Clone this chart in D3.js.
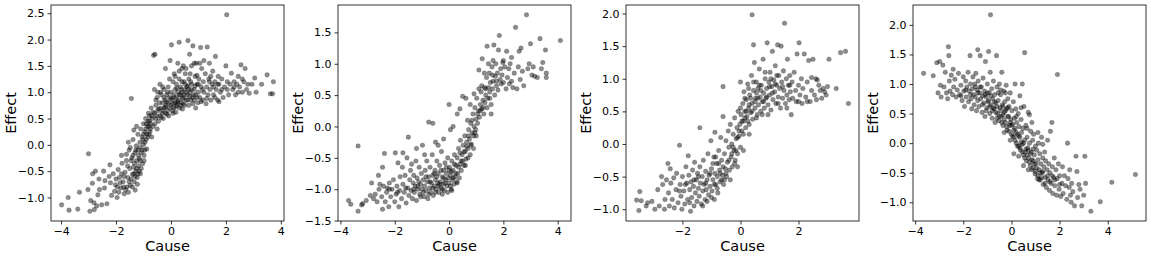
<!DOCTYPE html>
<html>
<head>
<meta charset="utf-8">
<script src="https://cdn.jsdelivr.net/npm/d3@7"></script>
<style>
  body { margin: 0; background: white; }
  svg { display: block; }
  text { font-family: "DejaVu Sans", sans-serif; fill: #000; }
</style>
</head>
<body>
<svg id="fig" width="1151" height="258"></svg>
<script>
// <data> : points, [cause, effect]
var pair1 = [
[-3.98,-1.14],[-3.74,-1.0],[-3.71,-1.24],[-3.39,-1.22],[-3.33,-0.9],[-3.0,-0.17],[-3.02,-0.85],[-2.95,-1.26],[-2.92,-1.06],[-2.86,-0.73],
[-2.8,-1.1],[-2.79,-1.23],[-2.75,-0.5],[-2.7,-1.16],[-2.66,-0.95],[-2.62,-0.65],[-2.52,-1.14],[-2.45,-0.5],[-2.42,-0.82],[-2.33,-1.12],
[-2.22,-0.38],[-2.2,-0.72],[-2.16,-0.96],[-2.1,-0.55],[-2.05,-0.88],[-2.02,-0.76],[-1.96,-1.0],[-1.92,-0.47],[-1.9,-0.9],[-1.87,-0.62],
[-1.82,-0.82],[-1.78,-0.35],[-1.74,-0.7],[-1.7,-0.93],[-1.67,-0.52],[-1.62,-0.3],[-1.6,-0.8],[-1.57,-0.62],[-1.52,-0.1],[-1.5,-0.45],
[-1.48,-0.77],[-1.44,0.88],[-1.42,-0.25],[-1.4,-0.56],[-1.38,0.1],[-1.36,-0.42],[-1.34,-0.7],[-1.31,-0.15],[-1.3,-0.86],[-1.28,-0.5],
[-1.26,-0.02],[-1.25,-0.3],[-1.23,-0.62],[-1.2,0.2],[-1.2,-0.1],[-1.18,-0.4],[-1.15,-0.26],[-1.13,0.05],[-1.11,-0.55],[-1.1,0.3],
[-1.08,-0.15],[-1.05,0.15],[-1.03,-0.36],[-1.0,0.4],[-1.0,0.0],[-0.98,-0.2],[-0.95,0.25],[-0.92,0.5],[-0.9,0.1],[-0.88,-0.08],
[-0.85,0.35],[-0.82,0.6],[-0.8,0.2],[-0.78,0.45],[-0.75,0.3],[-0.72,0.7],[-0.7,0.15],[-0.68,0.5],[-0.65,0.35],[-0.63,1.7],[-0.58,1.72],
[-1.65,-0.85],[-1.55,-0.9],[-1.45,-0.65],[-1.4,-0.8],[-1.35,-0.55],[-1.3,-0.6],[-1.25,-0.45],[-1.22,-0.75],[-1.18,-0.2],[-1.15,-0.5],
[-1.12,-0.3],[-1.08,-0.45],[-1.05,-0.1],[-1.02,0.1],[-0.98,-0.3],[-0.95,0.05],[-0.92,0.3],[-0.9,0.4],[-0.88,0.2],[-0.85,0.15],
[-0.83,0.45],[-0.8,0.35],[-0.78,0.55],[-0.76,0.25],[-0.74,0.4],[-2.25,-0.6],[-2.0,-0.65],[-1.95,-0.8],[-1.85,-0.72],[-1.8,-0.55],
[-1.72,-0.8],[-1.7,-0.6],[-2.4,-0.68],[-2.6,-0.85],[-2.85,-0.55],[-1.58,-0.4],[-1.52,-0.7],[-1.45,-0.3],[-1.38,-0.2],[-1.33,-0.35],
[-1.28,-0.1],[-1.2,-0.55],[-1.12,-0.05],[-1.0,0.2],[-0.95,-0.1],[-1.62,-0.18],[-1.8,-0.2],[-1.35,0.28],[-1.55,0.05],[-1.25,0.35],[-1.48,-0.05],
[-0.6,0.6],[-0.6,1.05],[-0.58,0.4],[-0.55,0.75],[-0.52,0.55],[-0.5,0.9],[-0.5,0.3],[-0.48,0.65],[-0.45,0.45],[-0.42,0.8],
[-0.4,1.15],[-0.4,0.55],[-0.38,0.7],[-0.35,0.95],[-0.32,0.6],[-0.3,0.8],[-0.28,0.5],[-0.25,1.05],[-0.25,0.7],[-0.22,0.85],
[-0.2,1.45],[-0.2,0.6],[-0.18,0.75],[-0.15,0.95],[-0.12,0.65],[-0.1,1.1],[-0.1,0.8],[-0.08,0.55],[-0.05,0.9],[-0.03,1.6],
[0.0,0.75],[0.0,1.0],[0.02,1.9],[0.05,0.85],[0.05,0.65],[0.08,1.2],[0.1,0.95],[0.1,0.7],[0.12,1.35],[0.15,0.8],
[0.15,1.05],[0.18,0.62],[0.2,0.9],[0.2,1.15],[0.22,0.75],[0.25,1.55],[0.25,1.0],[0.28,0.85],[0.3,1.95],[0.3,1.25],
[0.32,0.7],[0.35,0.95],[0.35,1.1],[0.38,0.8],[0.4,1.45],[0.4,1.0],[0.42,0.68],[0.45,0.9],[0.48,1.2],[0.5,0.75],
[0.5,1.05],[0.52,1.35],[0.55,0.85],[0.58,1.1],[0.6,0.95],[0.62,1.98],[0.65,0.75],[0.65,1.25],[0.68,1.72],[0.7,1.0],
[0.72,0.85],[0.75,1.5],[0.75,1.15],[0.78,0.9],[0.8,1.88],[0.8,0.78],[0.85,1.05],[0.88,1.3],[0.9,0.95],[0.92,1.55],
[0.95,1.15],[0.98,0.8],[1.0,1.0],[1.02,1.25],[1.05,0.9],[1.08,1.85],[1.1,1.1],[1.12,1.45],[1.15,0.85],[1.18,1.2],
[1.2,1.0],[1.25,1.35],[1.28,0.78],[1.3,1.1],[1.32,1.86],[1.35,0.95],[1.38,1.25],[1.4,1.55],[1.42,1.05],[1.45,0.85],
[1.5,1.15],[1.52,1.4],[1.55,0.95],[1.6,1.2],[1.62,1.68],[1.65,1.05],[1.7,0.85],[1.72,1.3],[1.75,1.15],[1.8,1.0],
[1.85,1.25],[1.9,0.9],[1.95,1.1],[2.0,1.5],[2.03,2.47],[2.05,1.2],[2.1,0.95],[2.15,1.15],[2.2,1.36],[2.25,1.05],
[2.3,1.2],[2.35,0.95],[2.4,1.15],[2.45,1.3],[2.5,1.1],[2.55,1.52],[2.6,1.0],[2.65,1.2],[2.7,1.45],[2.75,1.05],
[2.85,0.98],[2.95,1.15],[3.05,1.27],[3.1,1.0],[3.3,1.15],[3.5,1.33],[3.62,0.97],[3.7,0.97],[3.73,1.2],[2.8,1.15],
[1.6,0.9],[1.1,0.82],[0.9,0.7],
[-0.7,0.55],[-0.65,0.62],[-0.55,0.5],[-0.45,0.68],[-0.35,0.52],[-0.3,0.65],[-0.2,0.72],[-0.15,0.58],[-0.05,0.7],[0.0,0.88],
[0.05,0.78],[0.12,0.9],[0.18,0.72],[0.25,0.82],[0.3,0.95],[0.35,0.75],[0.42,0.88],[0.48,0.95],[0.55,1.0],[0.6,0.85],
[0.68,0.92],[0.75,1.05],[0.82,0.95],[0.88,1.12],[0.95,0.9],[1.0,1.15],[-0.15,0.82],[-0.25,0.9],[0.08,0.6],[0.22,1.08],
[0.38,1.05],[0.45,0.78],[0.52,1.15],[0.62,1.12],[0.72,1.2],[0.85,0.85],[-0.38,1.0],[-0.05,1.25],[0.15,1.3],[0.3,1.4],
[0.45,1.5],[0.55,1.45],[0.7,1.35],[0.85,1.55],[1.05,1.55],[1.2,1.6],[1.45,1.3],[1.3,0.88],[1.55,1.1],[1.7,1.15],
[1.85,1.05],[2.05,1.05],[2.3,1.1],[2.45,1.0],[2.6,1.25],[1.75,0.82],[1.4,1.2],[1.15,1.05],[0.95,1.32],[0.65,1.05],
[0.4,1.2],[0.2,0.8],[-0.12,1.0],[-0.3,1.1],[-0.55,0.85],[-0.48,1.0]
];

var pair2 = [
[-3.7,-1.18],[-3.62,-1.24],[-3.35,-1.35],[-3.35,-0.31],[-3.22,-1.25],[-3.18,-1.23],[-2.85,-0.9],[-2.78,-1.15],[-2.72,-1.08],[-2.65,-1.2],
[-2.58,-1.0],[-2.55,-0.92],[-2.48,-1.12],[-2.45,-1.32],[-2.42,-0.95],[-2.38,-0.43],[-2.35,-1.2],[-2.3,-1.05],[-2.28,-0.98],[-2.22,-1.28],
[-2.2,-0.9],[-2.15,-1.12],[-2.1,-1.0],[-2.05,-0.85],[-2.0,-1.2],[-1.98,-0.42],[-1.95,-1.08],[-1.92,-0.95],[-1.88,-0.58],[-1.85,-1.28],
[-1.82,-1.02],[-1.8,-0.8],[-1.75,-1.15],[-1.72,-0.65],[-1.7,-0.92],[-1.65,-1.05],[-1.62,-0.78],[-1.58,-1.22],[-1.55,-0.5],[-1.52,-0.98],
[-1.5,-0.17],[-1.48,-1.1],[-1.45,-0.85],[-1.42,-0.7],[-1.4,-1.02],[-1.38,-0.6],[-1.35,-1.15],[-1.32,-0.9],[-1.3,-0.78],[-1.28,-1.05],
[-1.25,-0.95],[-1.22,-0.55],[-1.2,-1.18],[-1.18,-0.82],[-1.15,-1.0],[-1.12,-0.88],[-1.1,-0.65],[-1.08,-1.08],[-1.05,-0.92],[-1.02,-0.75],
[-1.0,-1.0],[-0.98,-0.3],[-0.95,-0.85],[-0.92,-1.12],[-0.9,-0.95],[-0.88,-0.7],[-0.85,-1.02],[-0.82,-0.55],[-0.8,-0.88],[-0.78,-1.15],
[-0.75,-0.8],[-0.75,0.07],[-0.72,-0.98],[-0.7,-0.65],[-0.68,-1.05],[-0.65,-0.9],[-0.62,-0.45],[-0.6,-0.78],[-0.6,0.05],[-0.58,-1.1],
[-0.55,-0.95],[-0.52,-0.7],[-0.5,-0.85],[-0.48,-1.0],[-0.45,-0.55],[-0.42,-0.9],[-0.4,-0.75],[-0.38,-1.05],[-0.35,-0.62],[-0.32,-0.88],
[-0.3,-0.98],[-0.28,-0.4],[-0.25,-0.8],[-0.22,-0.92],[-0.2,-0.7],[-0.18,-1.02],[-0.15,-0.58],[-0.12,-0.85],[-0.1,-0.75],[-0.08,-0.95],
[-0.05,-0.5],[-0.02,-0.82],[0.0,0.35],[0.0,-0.9],[0.02,-0.65],[0.05,-0.78],[0.05,-0.05],[0.08,-1.0],[0.1,-0.55],[0.12,-0.85],
[0.15,-0.7],[0.18,-0.92],[0.2,-0.45],[0.22,-0.8],[0.25,-0.62],[0.28,-0.88],[0.3,0.2],[0.3,-0.5],[0.32,-0.75],[0.35,-0.35],
[0.38,-0.82],[0.4,-0.6],[0.42,-0.22],[0.45,-0.7],[0.48,-0.45],[0.5,-0.55],[0.5,0.48],[0.52,-0.3],[0.55,-0.62],[0.58,-0.15],
[0.6,-0.4],[0.62,-0.52],[0.65,-0.25],[0.68,0.1],[0.7,-0.35],[0.72,-0.05],[0.75,-0.2],[0.78,-0.45],[0.8,0.05],[0.82,-0.28],
[0.85,-0.1],[0.88,0.2],[0.9,-0.15],[0.92,0.0],[0.95,0.3],[0.98,-0.05],[1.0,0.12],[1.02,0.45],[1.05,0.05],[1.08,0.25],
[1.1,0.9],[1.12,0.15],[1.15,0.35],[1.18,0.55],[1.2,0.28],[1.22,1.08],[1.25,0.42],[1.28,0.2],[1.3,0.62],[1.32,0.38],
[1.35,0.5],[1.38,0.78],[1.4,1.28],[1.42,0.45],[1.45,0.62],[1.48,0.85],[1.5,0.55],[1.52,0.7],[1.55,0.35],[1.58,0.95],
[1.6,0.6],[1.62,0.72],[1.65,1.3],[1.68,0.5],[1.7,0.8],[1.72,1.0],[1.75,0.65],[1.78,0.85],[1.8,0.58],[1.82,1.22],
[1.85,1.45],[1.88,0.75],[1.9,0.92],[1.92,0.68],[1.95,0.82],[1.98,1.02],[2.0,0.7],[2.05,0.95],[2.1,0.6],[2.12,1.2],
[2.15,0.78],[2.2,0.92],[2.22,0.68],[2.25,1.0],[2.3,0.72],[2.35,0.62],[2.4,0.85],[2.45,1.58],[2.5,0.6],[2.55,0.95],
[2.58,1.2],[2.62,0.75],[2.65,1.25],[2.7,0.88],[2.75,0.65],[2.85,1.78],[2.9,0.92],[2.95,1.0],[3.0,1.32],[3.05,0.82],
[3.1,0.95],[3.15,0.8],[3.25,0.78],[3.35,1.4],[3.4,0.92],[3.45,1.02],[3.55,1.22],[3.58,0.85],[3.58,0.78],[4.1,1.37],
[-1.15,-0.95],[-0.95,-1.05],[-0.85,-0.8],[-0.7,-0.88],[-0.6,-0.98],[-0.5,-1.05],[-0.45,-0.8],[-0.35,-0.92],[-0.25,-1.0],[-0.15,-0.9],
[-0.05,-1.05],[0.05,-0.95],[0.15,-0.82],[0.25,-0.75],[0.35,-0.65],[0.45,-0.55],[-0.3,-0.7],[-0.1,-0.65],[0.08,-0.72],[-0.55,-0.75],
[-0.4,-0.95],[-0.2,-0.82],[0.0,-0.7],[0.2,-0.6],[0.4,-0.42],[0.55,-0.4],[0.65,-0.32],[0.72,-0.15],[0.8,-0.3],[0.85,0.1],
[0.95,-0.1],[1.05,0.2],[1.15,0.25],[1.25,0.3],[1.35,0.6],[1.5,0.45],[1.6,0.82],[1.75,0.72],[-1.3,-1.0],[-1.6,-0.98],
[-1.9,-1.05],[-2.2,-1.0],[-1.05,-1.12],[-0.75,-1.08],[-0.25,-1.08],[0.1,-1.02],[0.3,-0.9],[0.6,-0.62],[0.7,-0.5],[0.9,-0.35],
[1.0,-0.15],[0.78,0.35],[0.62,0.45],[0.4,0.28],[0.15,0.0],[-0.2,-0.2],[-0.4,-0.3],[-0.5,-0.25],[-0.9,-0.45],[-1.2,-0.35],
[-1.7,-0.42],[-2.45,-0.65],[-2.6,-0.78],[-2.9,-1.1],[-3.05,-1.18],[1.2,0.65],[1.4,0.3],[1.3,0.85],[1.45,1.0],[1.62,1.05],
[2.0,1.05],[2.3,1.1],[1.55,0.2],[0.92,0.52],[1.1,0.6]
];

var pair3 = [
[-3.58,-0.86],[-3.5,-1.02],[-3.47,-0.73],[-3.42,-0.87],[-3.25,-0.95],[-3.2,-0.9],[-3.05,-0.88],[-2.95,-1.0],[-2.85,-0.7],[-2.8,-0.95],
[-2.72,-0.5],[-2.68,-0.62],[-2.62,-1.0],[-2.6,-0.85],[-2.55,-0.55],[-2.5,-0.3],[-2.48,-0.75],[-2.45,-0.95],[-2.42,-0.38],[-2.4,-0.6],
[-2.35,-0.85],[-2.3,-0.52],[-2.28,-0.98],[-2.22,-0.7],[-2.2,-0.45],[-2.15,-0.9],[-2.1,-0.02],[-2.08,-0.62],[-2.05,-0.8],[-2.02,-1.0],
[-2.0,-0.5],[-1.95,-0.72],[-1.92,-0.92],[-1.88,-0.35],[-1.85,-0.6],[-1.82,-0.85],[-1.8,-0.18],[-1.78,-0.48],[-1.75,-0.7],[-1.72,-1.03],
[-1.7,-0.58],[-1.68,-0.82],[-1.65,-0.4],[-1.62,-0.65],[-1.6,-0.95],[-1.58,-0.28],[-1.55,-0.75],[-1.52,-0.55],[-1.5,-0.88],[-1.48,-0.45],
[-1.45,-0.68],[-1.42,-0.8],[-1.4,0.25],[-1.4,-0.35],[-1.38,-0.6],[-1.35,-0.92],[-1.32,-0.5],[-1.3,-0.72],[-1.28,-0.25],[-1.25,-0.62],
[-1.22,-0.85],[-1.2,-0.42],[-1.18,-0.7],[-1.15,-0.55],[-1.12,-0.15],[-1.1,-0.78],[-1.08,-0.48],[-1.05,-0.65],[-1.02,0.05],[-1.0,-0.38],
[-0.98,-0.72],[-0.95,-0.55],[-0.92,-0.2],[-0.9,-0.85],[-0.88,0.18],[-0.88,-0.45],[-0.85,-0.62],[-0.82,-0.3],[-0.8,-0.5],[-0.78,-0.75],
[-0.75,-0.1],[-0.72,-0.4],[-0.7,-0.58],[-0.68,0.1],[-0.65,-0.25],[-0.62,-0.48],[-0.6,0.88],[-0.6,0.42],[-0.58,-0.62],[-0.55,-0.15],
[-0.52,-0.38],[-0.5,0.05],[-0.48,-0.5],[-0.45,-0.28],[-0.42,0.2],[-0.4,-0.05],[-0.38,-0.4],[-0.35,0.3],[-0.32,-0.2],[-0.3,0.0],
[-0.28,-0.35],[-0.25,0.15],[-0.22,-0.1],[-0.2,0.4],[-0.18,-0.25],[-0.15,0.08],[-0.12,0.25],[-0.1,-0.15],[-0.08,0.5],[-0.05,0.12],
[-0.02,0.3],[0.0,-0.05],[0.0,0.95],[0.02,0.45],[0.05,0.2],[0.08,0.62],[0.1,0.35],[0.12,0.8],[0.15,0.5],[0.18,0.25],
[0.2,0.68],[0.22,0.42],[0.25,0.92],[0.28,0.55],[0.3,0.3],[0.32,0.75],[0.35,0.48],[0.38,1.05],[0.4,1.98],[0.4,0.62],
[0.42,0.38],[0.45,1.52],[0.45,0.82],[0.48,1.25],[0.5,0.55],[0.52,0.7],[0.55,0.95],[0.58,0.45],[0.6,0.85],[0.62,0.6],
[0.65,1.15],[0.68,0.72],[0.7,0.5],[0.72,0.9],[0.75,0.65],[0.78,1.3],[0.8,0.78],[0.82,0.55],[0.85,1.0],[0.88,0.7],
[0.9,0.85],[0.92,1.55],[0.95,0.6],[0.98,0.95],[1.0,0.75],[1.02,1.1],[1.05,0.52],[1.08,0.88],[1.1,1.42],[1.12,0.68],
[1.15,0.98],[1.18,0.8],[1.2,1.2],[1.22,0.62],[1.25,0.9],[1.28,1.52],[1.3,0.72],[1.32,1.05],[1.35,0.85],[1.38,0.55],
[1.4,1.5],[1.42,0.95],[1.45,0.7],[1.48,1.12],[1.5,0.82],[1.52,1.85],[1.55,0.62],[1.58,1.0],[1.6,0.75],[1.62,1.3],
[1.65,0.9],[1.68,0.68],[1.7,1.05],[1.72,0.8],[1.75,0.45],[1.78,0.95],[1.8,0.7],[1.85,1.1],[1.9,0.82],[1.92,0.65],
[1.95,1.38],[2.0,0.9],[2.02,1.55],[2.05,0.75],[2.1,1.0],[2.12,0.62],[2.15,0.85],[2.2,1.38],[2.25,0.72],[2.3,0.95],
[2.35,1.28],[2.4,0.65],[2.45,0.82],[2.5,1.3],[2.55,0.75],[2.6,1.0],[2.62,0.68],[2.7,0.9],[2.75,0.82],[2.8,0.7],
[2.85,0.85],[2.9,0.8],[2.95,0.75],[3.0,0.88],[3.05,1.3],[3.3,0.85],[3.45,1.4],[3.62,1.42],[3.72,0.62],[2.65,0.98],
[2.45,1.02],[2.3,0.65],[2.0,0.65],[1.6,0.55],
[-1.3,-0.95],[-1.15,-0.88],[-1.0,-0.82],[-0.9,-0.62],[-0.8,-0.68],[-0.7,-0.45],[-0.6,-0.35],[-0.5,-0.45],[-0.4,-0.25],[-0.3,-0.15],
[-0.25,-0.05],[-0.15,-0.1],[-0.1,0.1],[-0.05,0.2],[0.05,0.35],[0.1,0.15],[0.15,0.4],[0.2,0.5],[0.25,0.35],[0.3,0.6],
[0.35,0.7],[0.4,0.5],[0.5,0.65],[0.55,0.78],[0.6,0.7],[0.7,0.82],[0.8,0.65],[0.9,0.72],[1.0,0.88],[1.1,0.78],
[1.2,0.92],[1.3,0.62],[-1.2,-0.6],[-1.05,-0.45],[-0.95,-0.3],[-0.85,-0.2],[-0.75,-0.3],[-0.65,-0.55],[-0.55,-0.55],[-1.45,-0.5],
[-1.6,-0.55],[-1.75,-0.9],[-1.9,-0.62],[-2.1,-0.72],[-0.35,-0.55],[-0.2,-0.3],[0.0,0.55],[0.15,0.7],[0.28,0.85],[0.45,0.95],
[0.65,0.9],[0.85,1.1],[1.05,1.0],[1.25,1.05],[1.45,0.88],[1.7,0.9],[0.95,0.45],[0.75,0.45],[0.55,0.4],[0.3,0.15],
[0.1,-0.1],[-0.1,-0.35]
];

var pair4 = [
[-3.65,1.18],[-3.25,1.14],[-3.1,1.36],[-3.05,0.85],[-2.98,1.38],[-2.95,0.98],[-2.92,0.78],[-2.85,1.32],[-2.8,0.95],[-2.75,1.2],
[-2.7,0.85],[-2.65,0.75],[-2.62,1.63],[-2.6,1.48],[-2.58,1.05],[-2.55,0.88],[-2.5,1.15],[-2.45,0.82],[-2.42,1.25],[-2.4,0.95],
[-2.35,1.08],[-2.3,0.78],[-2.25,0.9],[-2.2,1.18],[-2.15,0.82],[-2.1,0.98],[-2.05,0.72],[-2.0,1.12],[-1.98,0.88],[-1.95,0.62],
[-1.9,1.05],[-1.88,0.78],[-1.85,0.95],[-1.8,1.2],[-1.78,0.7],[-1.75,0.88],[-1.72,1.48],[-1.7,1.0],[-1.68,0.75],[-1.65,0.58],
[-1.62,0.92],[-1.6,1.12],[-1.58,0.82],[-1.55,0.65],[-1.52,1.0],[-1.5,0.78],[-1.48,1.18],[-1.45,0.55],[-1.42,0.9],[-1.4,1.58],
[-1.4,0.72],[-1.38,1.05],[-1.35,0.62],[-1.32,0.85],[-1.3,1.48],[-1.28,0.75],[-1.25,0.95],[-1.22,0.52],[-1.2,0.8],[-1.18,1.1],
[-1.15,0.68],[-1.12,0.88],[-1.1,0.45],[-1.08,1.38],[-1.05,0.78],[-1.02,0.6],[-1.0,1.0],[-0.98,0.7],[-0.95,1.55],[-0.92,0.85],
[-0.9,0.5],[-0.88,1.2],[-0.87,2.17],[-0.85,0.65],[-0.82,0.92],[-0.8,0.42],[-0.78,0.75],[-0.75,1.05],[-0.72,0.58],[-0.7,0.82],
[-0.68,0.35],[-0.65,0.68],[-0.62,1.48],[-0.6,0.95],[-0.58,0.5],[-0.55,0.72],[-0.52,0.38],[-0.5,1.0],[-0.48,0.6],[-0.45,0.82],
[-0.42,0.45],[-0.4,1.2],[-0.38,0.65],[-0.35,0.3],[-0.32,0.88],[-0.3,0.52],[-0.28,0.7],[-0.25,0.35],[-0.22,0.98],[-0.2,0.58],
[-0.18,0.22],[-0.15,0.75],[-0.12,0.45],[-0.1,0.62],[-0.08,0.3],[-0.05,0.85],[-0.02,0.4],[0.0,0.15],[0.02,0.55],[0.05,0.32],
[0.08,0.7],[0.1,0.1],[0.12,0.42],[0.15,1.0],[0.15,0.25],[0.18,0.58],[0.2,0.0],[0.22,0.35],[0.25,0.15],[0.28,0.5],
[0.3,-0.05],[0.32,0.28],[0.35,0.8],[0.35,0.1],[0.38,-0.12],[0.4,0.4],[0.42,0.18],[0.45,1.0],[0.45,-0.02],[0.48,0.25],
[0.5,-0.2],[0.52,0.62],[0.55,1.53],[0.55,0.05],[0.58,-0.15],[0.6,0.3],[0.62,-0.3],[0.65,0.1],[0.68,-0.08],[0.7,0.52],
[0.72,-0.25],[0.75,0.0],[0.78,-0.38],[0.8,0.2],[0.82,-0.15],[0.85,-0.45],[0.88,0.05],[0.9,-0.3],[0.92,0.15],[0.95,-0.2],
[0.98,-0.52],[1.0,-0.05],[1.02,-0.35],[1.05,-0.12],[1.08,-0.6],[1.1,-0.28],[1.12,0.0],[1.15,-0.45],[1.18,-0.18],[1.2,-0.62],
[1.22,-0.35],[1.25,0.1],[1.28,-0.5],[1.3,-0.25],[1.32,-0.7],[1.35,-0.4],[1.38,-0.15],[1.4,-0.58],[1.42,-0.3],[1.45,-0.75],
[1.48,-0.45],[1.5,0.05],[1.52,-0.62],[1.55,-0.35],[1.58,-0.8],[1.6,-0.5],[1.62,0.2],[1.65,-0.68],[1.68,0.35],[1.7,-0.4],
[1.72,-0.85],[1.75,-0.58],[1.78,-0.25],[1.8,-0.72],[1.85,-0.45],[1.88,-0.88],[1.9,-0.6],[1.91,1.16],[1.95,-0.35],[1.98,-0.78],
[2.0,-0.55],[2.05,-0.9],[2.1,-0.68],[2.12,-0.4],[2.15,-0.85],[2.2,-0.55],[2.25,-0.72],[2.3,-0.95],[2.33,0.0],[2.35,-0.6],
[2.4,-0.75],[2.42,-0.45],[2.45,-0.88],[2.48,-1.0],[2.5,-0.68],[2.55,-0.82],[2.62,-1.06],[2.68,-0.22],[2.72,-0.48],[2.75,-0.92],
[2.8,-0.7],[2.85,-0.78],[2.92,-1.06],[3.0,-0.88],[3.05,-0.22],[3.08,-0.68],[3.3,-1.15],[3.69,-0.99],[4.17,-0.66],[5.15,-0.53],
[-1.2,0.65],[-1.05,0.55],[-0.95,0.72],[-0.85,0.8],[-0.75,0.6],[-0.65,0.52],[-0.6,0.62],[-0.5,0.45],[-0.45,0.55],[-0.4,0.35],
[-0.35,0.48],[-0.3,0.4],[-0.25,0.55],[-0.2,0.28],[-0.15,0.45],[-0.1,0.2],[-0.05,0.35],[0.0,0.3],[0.05,0.12],[0.1,0.22],
[0.15,0.05],[0.2,0.18],[0.25,-0.05],[0.3,0.12],[0.35,-0.08],[0.4,0.02],[0.45,-0.15],[0.5,0.0],[0.55,-0.25],[0.6,-0.1],
[0.65,-0.2],[0.7,-0.12],[0.75,-0.32],[0.8,-0.18],[0.85,-0.28],[0.9,-0.42],[0.95,-0.35],[1.0,-0.48],[1.05,-0.42],[1.1,-0.55],
[1.15,-0.62],[1.2,-0.5],[1.25,-0.58],[1.3,-0.48],[1.4,-0.68],[1.5,-0.55],[1.6,-0.65],[1.7,-0.55],[1.8,-0.62],[2.0,-0.7],
[-1.5,0.95],[-1.3,0.95],[-1.1,0.82],[-0.9,0.62],[-0.7,0.7],[-0.55,0.85],[-0.35,0.62],[-0.15,0.6],[-1.7,0.82],[-1.9,0.9],
[-2.1,0.8],[-1.4,0.85],[-1.0,0.85],[-0.8,0.55],[-0.6,0.42],[-0.3,0.18],[0.1,-0.18],[0.3,-0.22],[0.5,-0.38],[0.7,-0.45],
[0.9,-0.1],[1.1,0.18],[1.3,-0.02],[-0.05,0.05],[-0.25,0.85],[-0.45,0.9],[0.2,0.45],[0.4,0.6],[0.65,0.25],[0.85,0.35],[0.75,0.48]
];

var pairs = [pair1, pair2, pair3, pair4];
var xtick_values = [[-4,-2,0,2,4],[-4,-2,0,2,4],[-2,0,2],[-4,-2,0,2,4]];
var ytick_values = [
  [-1.0,-0.5,0.0,0.5,1.0,1.5,2.0,2.5],
  [-1.5,-1.0,-0.5,0.0,0.5,1.0,1.5],
  [-1.0,-0.5,0.0,0.5,1.0,1.5,2.0],
  [-1.0,-0.5,0.0,0.5,1.0,1.5,2.0]
];
var x_label = "Cause";
var y_label = "Effect";
// </data>

// layout of the four axes boxes, in pixels
var panel_left = [51, 338, 626, 913];
var panel_width = 233;
var panel_top = 5;
var panel_height = 216;
var margin_frac = 0.05;   // matplotlib default autoscale margin
var dot_radius = 2.3;

var svg = d3.select("#fig");
var minus = function(v, digits) {
  return (digits ? v.toFixed(digits) : String(v)).replace("-", "\u2212");
};

function padded(extent) {
  var span = extent[1] - extent[0];
  return [extent[0] - span*margin_frac, extent[1] + span*margin_frac];
}

pairs.forEach(function(data, i) {
  var left = panel_left[i];
  var x = d3.scaleLinear()
      .domain(padded(d3.extent(data, function(d) { return d[0]; })))
      .range([left, left + panel_width]);
  var y = d3.scaleLinear()
      .domain(padded(d3.extent(data, function(d) { return d[1]; })))
      .range([panel_top + panel_height, panel_top]);

  var g = svg.append("g").attr("class", "panel" + i);

  g.append("g").selectAll("circle")
    .data(data).enter().append("circle")
    .attr("cx", function(d) { return x(d[0]); })
    .attr("cy", function(d) { return y(d[1]); })
    .attr("r", dot_radius)
    .attr("fill", "rgba(0,0,0,0.45)")
    .attr("stroke", "rgba(0,0,0,0.3)")
    .attr("stroke-width", 0.6);

  var xaxis = g.append("g")
    .attr("transform", "translate(0," + (panel_top + panel_height) + ")")
    .call(d3.axisBottom(x).tickValues(xtick_values[i])
      .tickFormat(function(v) { return minus(v); })
      .tickSize(3.5).tickSizeOuter(0).tickPadding(3));
  var yaxis = g.append("g")
    .attr("transform", "translate(" + left + ",0)")
    .call(d3.axisLeft(y).tickValues(ytick_values[i])
      .tickFormat(function(v) { return minus(v, 1); })
      .tickSize(3.5).tickSizeOuter(0).tickPadding(3));

  [xaxis, yaxis].forEach(function(ax) {
    ax.select(".domain").remove();
    ax.selectAll("line").attr("stroke", "#000").attr("stroke-width", 0.8);
    ax.selectAll("text")
      .attr("font-family", "DejaVu Sans")
      .attr("font-size", 11)
      .attr("fill", "#000");
  });

  g.append("rect")
    .attr("x", left).attr("y", panel_top)
    .attr("width", panel_width).attr("height", panel_height)
    .attr("fill", "none").attr("stroke", "#000").attr("stroke-width", 0.8);

  g.append("text")
    .attr("x", left + panel_width/2).attr("y", 251)
    .attr("text-anchor", "middle")
    .attr("font-size", 14.5)
    .text(x_label);

  g.append("text")
    .attr("transform", "translate(" + (left - 40) + "," + (panel_top + panel_height/2) + ") rotate(-90)")
    .attr("text-anchor", "middle")
    .attr("dominant-baseline", "central")
    .attr("font-size", 14.5)
    .text(y_label);
});
</script>
</body>
</html>
